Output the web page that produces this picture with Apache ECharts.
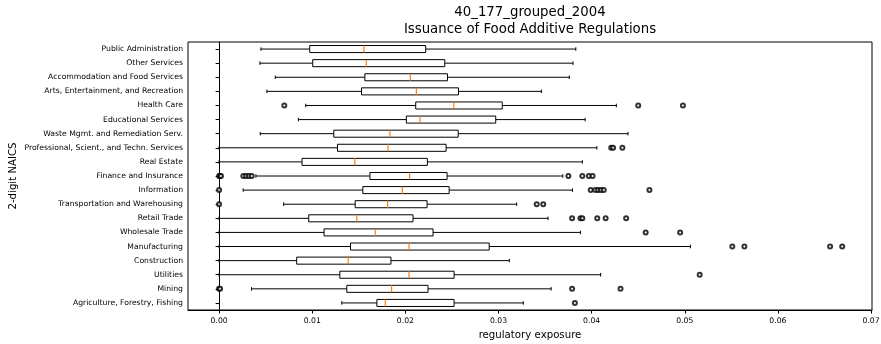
<!DOCTYPE html>
<html><head><meta charset="utf-8">
<script src="https://cdn.jsdelivr.net/npm/echarts@6/dist/echarts.min.js"></script>
<style>html,body{margin:0;padding:0;background:#fff}#c{width:881px;height:344px}</style>
</head><body><div id="c"></div>
<script>
const categories = [
  'Public Administration',
  'Other Services',
  'Accommodation and Food Services',
  'Arts, Entertainment, and Recreation',
  'Health Care',
  'Educational Services',
  'Waste Mgmt. and Remediation Serv.',
  'Professional, Scient., and Techn. Services',
  'Real Estate',
  'Finance and Insurance',
  'Information',
  'Transportation and Warehousing',
  'Retail Trade',
  'Wholesale Trade',
  'Manufacturing',
  'Construction',
  'Utilities',
  'Mining',
  'Agriculture, Forestry, Fishing'
];
const whiskerLow  = [0.00449, 0.00438, 0.00603, 0.00513, 0.00930, 0.00851, 0.00442, 0.0, 0.0, 0.00395, 0.00258, 0.00693, 0.0, 0.0, 0.0, 0.0, 0.0, 0.00348, 0.01317];
const q1          = [0.00973, 0.01005, 0.01565, 0.01529, 0.02111, 0.02010, 0.01231, 0.01271, 0.00890, 0.01619, 0.01543, 0.01461, 0.00962, 0.01127, 0.01411, 0.00833, 0.01296, 0.01371, 0.01694];
const median      = [0.01554, 0.01580, 0.02053, 0.02118, 0.02520, 0.02157, 0.01834, 0.01813, 0.01457, 0.02046, 0.01967, 0.01809, 0.01479, 0.01676, 0.02039, 0.01386, 0.02039, 0.01852, 0.01784];
const q3          = [0.02218, 0.02423, 0.02452, 0.02570, 0.03040, 0.02970, 0.02567, 0.02437, 0.02236, 0.02448, 0.02470, 0.02233, 0.02082, 0.02297, 0.02900, 0.01845, 0.02523, 0.02243, 0.02523];
const whiskerHigh = [0.0383, 0.0380, 0.0376, 0.0346, 0.04265, 0.0393, 0.0439, 0.04056, 0.0390, 0.0369, 0.03794, 0.03195, 0.03532, 0.0388, 0.0506, 0.03116, 0.04096, 0.03565, 0.03266];
const outliers = [
  [], [], [], [],
  [0.0070, 0.0450, 0.0498],
  [], [],
  [0.0421, 0.0423, 0.0433],
  [],
  [0.0, 0.0001, 0.0002, 0.0026, 0.0029, 0.0032, 0.0035, 0.0375, 0.0390, 0.0397, 0.0401],
  [0.0, 0.0399, 0.0404, 0.0407, 0.0410, 0.0413, 0.0462],
  [0.0, 0.0341, 0.0348],
  [0.0379, 0.0388, 0.0390, 0.0406, 0.0415, 0.0437],
  [0.0458, 0.0495],
  [0.0551, 0.0564, 0.0656, 0.0669],
  [],
  [0.0516],
  [0.0, 0.0001, 0.0379, 0.0431],
  [0.0382]
];
const xTicks = [0.00, 0.01, 0.02, 0.03, 0.04, 0.05, 0.06, 0.07];
const xMin = -0.00334, xMax = 0.0701;

const boxData = categories.map((c, i) => [i, whiskerLow[i], q1[i], median[i], q3[i], whiskerHigh[i]]);
const outlierData = [];
outliers.forEach((arr, i) => arr.forEach(v => outlierData.push([v, i])));

function renderBox(params, api) {
  const i = api.value(0);
  const band = api.size([0, 1])[1];
  const boxH = band * 0.5, capH = band * 0.25;
  const pLo = api.coord([api.value(1), i]);
  const pA = api.coord([api.value(2), i]);
  const pM = api.coord([api.value(3), i]);
  const pB = api.coord([api.value(4), i]);
  const pHi = api.coord([api.value(5), i]);
  const y = pA[1];
  const blk = { stroke: '#000', lineWidth: 1, fill: null };
  return {
    type: 'group',
    children: [
      { type: 'line', shape: { x1: pLo[0], y1: y, x2: pA[0], y2: y }, style: blk },
      { type: 'line', shape: { x1: pB[0], y1: y, x2: pHi[0], y2: y }, style: blk },
      { type: 'line', shape: { x1: pLo[0], y1: y - capH / 2, x2: pLo[0], y2: y + capH / 2 }, style: blk },
      { type: 'line', shape: { x1: pHi[0], y1: y - capH / 2, x2: pHi[0], y2: y + capH / 2 }, style: blk },
      { type: 'rect', shape: { x: pA[0], y: y - boxH / 2, width: pB[0] - pA[0], height: boxH }, style: { fill: '#fff', stroke: '#000', lineWidth: 1 } },
      { type: 'line', shape: { x1: pM[0], y1: y - boxH / 2, x2: pM[0], y2: y + boxH / 2 }, style: { stroke: '#ff7f0e', lineWidth: 1.2 } }
    ]
  };
}

const font = 'DejaVu Sans';
const chart = echarts.init(document.getElementById('c'), null, { renderer: 'canvas' });
chart.setOption({
  animation: false,
  backgroundColor: '#fff',
  title: {
    text: '40_177_grouped_2004\nIssuance of Food Additive Regulations',
    left: 530, top: 4, padding: 0,
    textAlign: 'center',
    textStyle: { fontFamily: font, fontSize: 13.3, fontWeight: 'normal', color: '#000', lineHeight: 17 }
  },
  grid: { left: 188, right: 9, top: 42, bottom: 34, containLabel: false, outerBoundsMode: 'none', show: true, borderColor: '#000', borderWidth: 1, backgroundColor: 'transparent' },
  xAxis: {
    type: 'value', min: xMin, max: xMax,
    name: 'regulatory exposure', nameLocation: 'middle', nameGap: 20, nameMoveOverlap: false,
    nameTextStyle: { fontFamily: font, fontSize: 10.2, color: '#000' },
    axisLine: { show: true, lineStyle: { color: '#000', width: 1 } },
    axisTick: { show: true, length: 3.5, lineStyle: { color: '#000' }, customValues: xTicks },
    axisLabel: { fontFamily: font, fontSize: 7.7, color: '#000', margin: 7, customValues: xTicks, formatter: v => v.toFixed(2) },
    splitLine: { show: false }
  },
  yAxis: {
    type: 'category', data: categories, inverse: true,
    name: '2-digit NAICS', nameLocation: 'middle', nameGap: 170, nameRotate: 90, nameMoveOverlap: false,
    nameTextStyle: { fontFamily: font, fontSize: 10.2, color: '#000' },
    axisLine: { show: true, lineStyle: { color: '#000', width: 1 } },
    axisTick: { show: true, alignWithLabel: true, length: 3.5, lineStyle: { color: '#000' } },
    axisLabel: { fontFamily: font, fontSize: 7.7, color: '#000', margin: 5, interval: 0 },
    splitLine: { show: false }
  },
  series: [
    {
      type: 'custom', renderItem: renderBox, data: boxData,
      encode: { x: [1, 2, 3, 4, 5], y: 0 }, z: 2
    },
    {
      type: 'scatter', data: outlierData, symbol: 'emptyCircle', symbolSize: 4,
      itemStyle: { color: '#000', borderColor: '#000', borderWidth: 0.6 }, z: 3
    }
  ]
});
</script></body></html>
